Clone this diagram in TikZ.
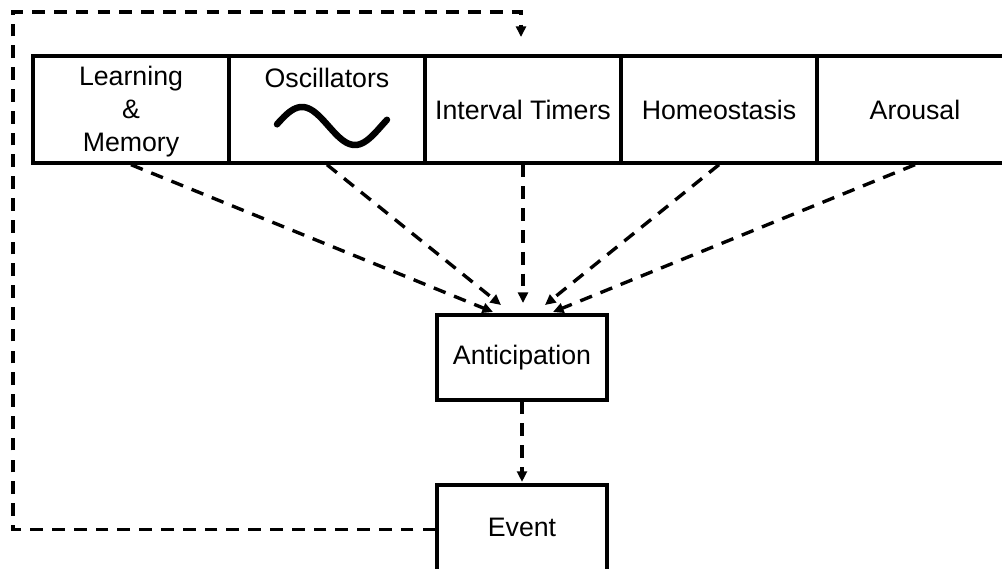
\documentclass[tikz,border=0pt]{standalone}
\usepackage{fontspec}
\setmainfont{Liberation Sans}
\usetikzlibrary{arrows.meta}
\begin{document}
\begin{tikzpicture}[x=0.025cm,y=-0.025cm,
  lbl/.style={inner sep=0pt,align=center,font=\fontsize{19}{23.5}\selectfont},
  topbox/.style={draw,line width=2.4pt,minimum width=4.9cm,minimum height=2.675cm,inner sep=0pt,align=center,font=\fontsize{19}{23.5}\selectfont},
  midbox/.style={draw,line width=2.4pt,minimum width=4.25cm,minimum height=2.125cm,inner sep=0pt,font=\fontsize{19}{23.5}\selectfont},
  link/.style={line width=2.4pt,dash pattern=on 9pt off 6.5pt,-{Triangle[length=7.5pt,width=7pt]}}]
\useasboundingbox (0,0) rectangle (1002,569);
\node[topbox] (L) at (131,109.5) {};
\node[lbl] (Lt) at (131,112) {Learning\\\&\\Memory};
\node[topbox] (O) at (327,109.5) {};
\node[lbl] (Ot) at (327,78) {Oscillators};
\node[topbox] (I) at (523,109.5) {Interval Timers};
\node[topbox] (H) at (719,109.5) {Homeostasis};
\node[topbox] (R) at (915,109.5) {Arousal};
\draw[line width=4.6pt,line cap=round] plot[domain=277:387,samples=60,smooth] (\x,{126-19*sin((\x-275.5)*3.4)});
\node[midbox] (A) at (522,357.5) {Anticipation};
\node[midbox,minimum height=2.225cm,text depth=3.5pt] (E) at (522,529.5) {Event};
\coordinate (t1) at (493,312);
\coordinate (t2) at (501,305);
\coordinate (t3) at (523,303);
\coordinate (t4) at (545,305);
\coordinate (t5) at (553,312);
\coordinate (t0) at (521,37);
\coordinate (fb) at (13,12);
\draw[link] (L.south) -- (t1);
\draw[link] (O.south) -- (t2);
\draw[link] (I.south) -- (t3);
\draw[link] (H.south) -- (t4);
\draw[link] (R.south) -- (t5);
\draw[link,shorten >=1pt] (A.south) -- (E.north);
\draw[link] (E.west) -| (fb) -| (t0);
\end{tikzpicture}
\end{document}
